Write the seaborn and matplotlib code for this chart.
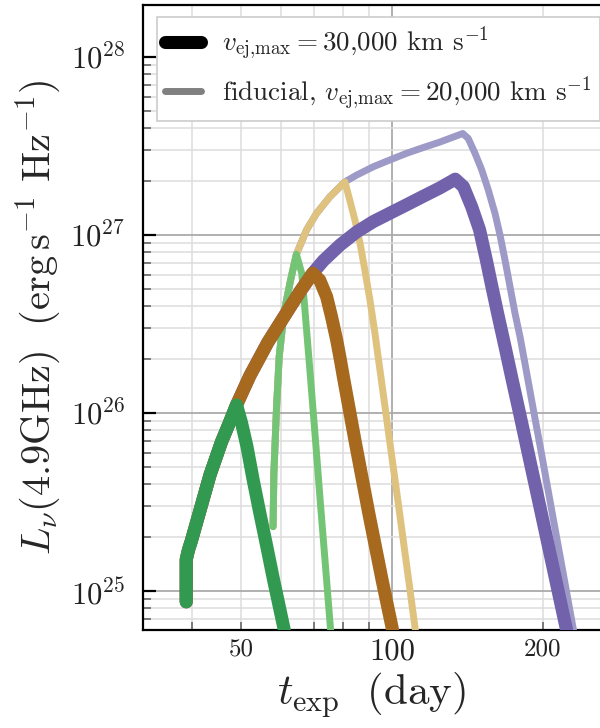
#-------------------------------------------------------------------------------------------
# Radio light curves L_nu(4.9 GHz) vs time since explosion
#-------------------------------------------------------------------------------------------

import numpy as np
import matplotlib
matplotlib.use("Agg")
import matplotlib.pyplot as plt
import matplotlib.ticker as mticker
from matplotlib.lines import Line2D
import seaborn as sns

#-------------------------------------------------------------------------------------------
# DATA
#-------------------------------------------------------------------------------------------

# Shared rising branch, v_ej,max = 30,000 km/s (thick lines).
t_rise_30k = [38.9, 38.9, 39.3, 39.8, 41.6, 43.4, 45.75, 47.5, 49.0,
              52.1, 56.6, 62.6, 65.7, 69.5,
              73.0, 78.8, 85.0, 91.8, 100.3, 107.0, 115.4, 124.6, 133.7]
L_rise_30k = [8.7e24, 1.5e25, 1.7e25, 1.9e25, 2.95e25, 4.5e25, 6.9e25, 8.9e25, 1.11e26,
              1.62e26, 2.5e26, 3.92e26, 4.85e26, 6.1e26,
              7.18e26, 8.79e26, 1.04e27, 1.19e27, 1.35e27, 1.48e27, 1.65e27, 1.84e27, 2.06e27]

# Falling branches, 30,000 km/s.
t_fall_green_30k = [50.1, 51.4, 52.9, 54.6, 56.3, 58.1, 60.9, 62.0]
L_fall_green_30k = [8.9e25, 6.5e25, 4.2e25, 2.7e25, 1.78e25, 1.15e25, 6.2e24, 4.8e24]

t_fall_brown_30k = [71.8, 74.1, 75.8, 77.6, 78.8, 80.0, 84.4, 90.0, 95.6, 100.1, 101.6]
L_fall_brown_30k = [5.58e26, 4.5e26, 3.47e26, 2.57e26, 2.04e26, 1.6e26, 7.0e25, 2.7e25, 1.15e25,
                    6.2e24, 4.8e24]

t_fall_purple_30k = [138.8, 144.2, 149.5, 154.2, 158.2, 162.4, 168.0, 173.7, 179.6, 185.7,
                     198.5, 212.1, 222.5, 227.0]
L_fall_purple_30k = [1.87e27, 1.44e27, 1.07e27, 7.24e26, 5.13e26, 3.63e26, 2.36e26, 1.53e26,
                     1.0e26, 6.47e25, 2.73e25, 1.15e25, 6.17e24, 4.8e24]

# Shared rising branch, fiducial 20,000 km/s (thin lines).
t_rise_20k = [57.95, 58.16, 58.89, 59.6, 60.9, 62.8, 64.5,
              67.6, 70.7, 75.2, 80.6,
              85.0, 91.8, 100.3, 107.0, 115.4, 124.6, 138.4]
L_rise_20k = [2.3e25, 4.57e25, 1.08e26, 2.07e26, 3.63e26, 5.58e26, 7.8e26,
              1.07e27, 1.32e27, 1.64e27, 1.99e27,
              2.17e27, 2.42e27, 2.68e27, 2.88e27, 3.1e27, 3.33e27, 3.72e27]

# Falling branches, 20,000 km/s.
t_fall_green_20k = [66.1, 67.0, 68.7, 70.4, 72.1, 73.9, 75.4, 76.0]
L_fall_green_20k = [6.1e26, 3.95e26, 1.67e26, 7.05e25, 2.98e25, 1.26e25, 6.2e24, 4.8e24]

t_fall_tan_20k = [82.4, 84.4, 86.4, 88.3, 90.4, 92.5, 93.9, 96.2, 98.8, 101.2, 103.7, 108.2,
                  111.2, 112.6]
L_fall_tan_20k = [1.57e27, 1.21e27, 8.98e26, 6.36e26, 4.31e26, 2.8e26, 2.05e26, 1.25e26, 7.2e25,
                  4.4e25, 2.67e25, 1.1e25, 6.2e24, 4.8e24]

t_fall_lpurple_20k = [141.9, 146.4, 151.0, 155.6, 160.5, 164.2, 168.0, 171.9, 175.9, 180.0,
                      184.1, 191.9, 197.5, 208.7, 220.7, 229.7, 233.4]
L_fall_lpurple_20k = [3.49e27, 2.88e27, 2.32e27, 1.79e27, 1.32e27, 1.0e27, 7.24e26, 5.13e26,
                      3.63e26, 2.68e26, 1.9e26, 1.0e26, 6.47e25, 2.73e25, 1.15e25, 6.17e24, 4.8e24]

legend_labels = [r'$v_{\rm ej{,}max}=$30,000 km s$^{-1}$',
                 r'fiducial, $v_{\rm ej{,}max}=$20,000 km s$^{-1}$']

#-------------------------------------------------------------------------------------------
# STYLE
#-------------------------------------------------------------------------------------------

sns.set_style("ticks")
plt.rcParams['font.family'] = 'serif'
plt.rcParams['font.serif'] = ['cmr10']
plt.rcParams['mathtext.fontset'] = 'cm'
plt.rcParams['axes.unicode_minus'] = False
plt.rcParams['axes.formatter.use_mathtext'] = True

fig = plt.figure(figsize=(6, 7.28), dpi=100)
ax = fig.add_axes([0.2383, 0.1346, 0.7617, 0.8585])

#-------------------------------------------------------------------------------------------
# CURVES  (thin first, thick on top)
#-------------------------------------------------------------------------------------------

thin_lw = 5.0
thick_lw = 9.4

curves = [
    # x, y, colour, width, zorder
    (t_rise_20k + t_fall_lpurple_20k, L_rise_20k + L_fall_lpurple_20k, '#9e9ac8', thin_lw, 3),
    (t_rise_20k[:11] + t_fall_tan_20k, L_rise_20k[:11] + L_fall_tan_20k, '#dfc27d', thin_lw, 4),
    (t_rise_20k[:7] + t_fall_green_20k, L_rise_20k[:7] + L_fall_green_20k, '#74c476', thin_lw, 5),
    (t_rise_30k + t_fall_purple_30k, L_rise_30k + L_fall_purple_30k, '#7262ab', thick_lw, 6),
    (t_rise_30k[:14] + t_fall_brown_30k, L_rise_30k[:14] + L_fall_brown_30k, '#a6691e', thick_lw, 7),
    (t_rise_30k[:9] + t_fall_green_30k, L_rise_30k[:9] + L_fall_green_30k, '#329a50', thick_lw, 8),
]

for x, y, c, lw, z in curves:
    sns.lineplot(x=x, y=y, ax=ax, color=c, linewidth=lw, estimator=None, sort=False,
                 solid_capstyle='round', solid_joinstyle='round', zorder=z, legend=False)

#-------------------------------------------------------------------------------------------
# AXES
#-------------------------------------------------------------------------------------------

ax.set_xscale('log')
ax.set_yscale('log')
ax.set_xlim(31.9, 259.8)
ax.set_ylim(6.04e24, 1.96e28)

ax.xaxis.set_major_locator(mticker.FixedLocator([100]))
ax.xaxis.set_major_formatter(mticker.FuncFormatter(lambda v, p: '%d' % v))
ax.xaxis.set_minor_locator(mticker.FixedLocator([40, 50, 60, 70, 80, 90, 200]))
ax.xaxis.set_minor_formatter(mticker.FuncFormatter(lambda v, p: '%d' % v if v in (50, 200) else ''))

ax.yaxis.set_major_locator(mticker.LogLocator(base=10, numticks=10))
ax.yaxis.set_minor_locator(mticker.LogLocator(base=10, subs=np.arange(2, 10), numticks=20))
ax.yaxis.set_minor_formatter(mticker.NullFormatter())

ax.tick_params(which='major', direction='in', length=9, width=1.6, color='black',
               labelsize=22, labelcolor='#222222')
ax.tick_params(which='minor', direction='in', length=6, width=1.2, color='#666666',
               labelsize=18, labelcolor='#222222')
ax.tick_params(axis='y', which='major', pad=13)
ax.tick_params(axis='x', which='both', pad=6)

ax.grid(which='major', color='#aaaaaa', linewidth=1.3)
ax.grid(which='minor', color='#dddddd', linewidth=1.1)
ax.set_axisbelow(True)

for side in ['left', 'bottom', 'top']:
    ax.spines[side].set_linewidth(1.6)
    ax.spines[side].set_color('black')
ax.spines['right'].set_visible(False)

ax.set_xlabel(r'$t_{\rm exp}\ \ ({\rm day})$', fontsize=31, labelpad=3)
ax.set_ylabel(r'$L_{\nu}(4.9{\rm GHz})\ \ ({\rm erg\,s^{-1}\ Hz^{-1}})$', fontsize=29, labelpad=4)

#-------------------------------------------------------------------------------------------
# LEGEND
#-------------------------------------------------------------------------------------------

handles = [Line2D([0], [0], color='black', lw=thick_lw, solid_capstyle='round'),
           Line2D([0], [0], color='#808080', lw=thin_lw, solid_capstyle='round')]
leg = ax.legend(handles, legend_labels, loc='upper left', bbox_to_anchor=(0.030, 0.981),
                borderaxespad=0, fontsize=19.5, handlelength=1.35, handletextpad=0.75,
                borderpad=0.3, labelspacing=0.42, fancybox=False, framealpha=1,
                edgecolor='#cccccc')
leg.get_frame().set_linewidth(1.2)
leg.set_zorder(20)

fig.savefig('out.png', dpi=100)
